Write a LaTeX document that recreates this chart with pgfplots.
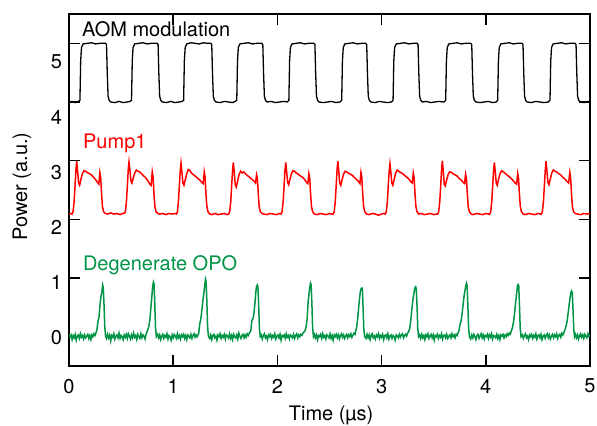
\documentclass[border=0pt]{standalone}
\usepackage{fontspec}
\setmainfont{TeX Gyre Heros}
\usepackage{pgfplots}
\pgfplotsset{compat=1.18}
\definecolor{opogreen}{RGB}{0,148,70}
\definecolor{pumpred}{RGB}{255,0,0}

\begin{document}
\begin{tikzpicture}
\begin{axis}[
  width=260.5pt, height=176pt, scale only axis,
  xmin=0, xmax=5, ymin=-0.5, ymax=5.5,
  xtick={0,1,...,5}, ytick={0,1,...,5},
  tick align=inside, major tick length=5.5pt,
  axis line style={line width=0.8pt},
  tick style={line width=0.8pt, black},
  /pgf/number format/assume math mode=true,
  tick label style={font=\fontsize{10}{12}\selectfont},
  xticklabel style={yshift=-3pt},
  yticklabel style={yshift={-0.65pt-1.75pt*\ticknum}},
  label style={font=\fontsize{10}{12}\selectfont},
  xlabel={Time (µs)},
  ylabel={Power (a.u.)},
  every axis x label/.style={at={(axis description cs:0.503,-0.139)}, anchor=center},
  every axis y label/.style={at={(axis description cs:-0.0902,0.51)}, rotate=90, anchor=center},
]
% AOM modulation
\addplot[black, line width=0.65pt] coordinates {
(0,4.00)(0.03,4.01)(0.06,3.99)(0.09,4.01)(0.105,4.03)(0.112,4.7)(0.12,4.93)(0.135,4.99)(0.175,5.00)(0.215,5.01)(0.255,4.99)(0.295,5.00)(0.35,5.00)(0.36,4.98)(0.367,4.5)(0.375,4.1)(0.385,4.03)(0.40,4.00)(0.44,3.99)(0.48,4.01)(0.52,3.99)(0.56,4.00)
(0.585,4.01)(0.60,4.03)(0.607,4.7)(0.615,4.93)(0.63,4.99)(0.67,5.00)(0.71,5.01)(0.75,4.99)(0.79,5.00)(0.845,5.00)(0.855,4.98)(0.862,4.5)(0.87,4.1)(0.88,4.03)(0.895,4.00)(0.935,3.99)(0.975,4.01)(1.015,3.99)(1.055,4.00)
(1.085,4.01)(1.10,4.03)(1.107,4.7)(1.115,4.93)(1.13,4.99)(1.17,5.01)(1.21,5.00)(1.25,4.99)(1.29,5.01)(1.33,5.00)(1.36,5.00)(1.37,4.98)(1.377,4.5)(1.385,4.1)(1.395,4.03)(1.41,4.00)(1.45,3.99)(1.49,4.01)(1.53,4.00)(1.57,3.99)
(1.595,4.01)(1.61,4.03)(1.617,4.7)(1.625,4.93)(1.64,4.99)(1.68,5.00)(1.72,5.01)(1.76,4.99)(1.80,5.00)(1.85,5.00)(1.86,4.98)(1.867,4.5)(1.875,4.1)(1.885,4.03)(1.90,4.00)(1.94,4.01)(1.98,3.99)(2.02,4.00)(2.06,4.01)(2.095,4.00)
(2.11,4.03)(2.117,4.7)(2.125,4.93)(2.14,4.99)(2.18,5.00)(2.22,5.01)(2.26,4.99)(2.30,5.00)(2.35,5.00)(2.36,4.98)(2.367,4.5)(2.375,4.1)(2.385,4.03)(2.40,4.00)(2.44,3.99)(2.48,4.00)(2.52,4.01)(2.56,3.99)(2.60,4.00)
(2.617,4.03)(2.624,4.7)(2.632,4.93)(2.647,4.99)(2.687,5.00)(2.727,5.01)(2.767,4.99)(2.807,5.00)(2.847,5.00)(2.857,4.98)(2.864,4.5)(2.872,4.1)(2.882,4.03)(2.897,4.00)(2.937,3.99)(2.977,4.01)(3.017,4.00)(3.057,3.99)(3.095,4.00)
(3.11,4.03)(3.117,4.7)(3.125,4.93)(3.14,4.99)(3.18,5.00)(3.22,5.01)(3.26,4.99)(3.30,5.00)(3.34,5.00)(3.35,4.98)(3.357,4.5)(3.365,4.1)(3.375,4.03)(3.39,4.00)(3.43,4.01)(3.47,3.99)(3.51,4.00)(3.55,4.01)(3.60,4.00)
(3.615,4.03)(3.622,4.7)(3.63,4.93)(3.645,4.99)(3.685,5.00)(3.725,5.01)(3.765,4.99)(3.805,5.00)(3.855,5.00)(3.865,4.98)(3.872,4.5)(3.88,4.1)(3.89,4.03)(3.905,4.00)(3.945,3.99)(3.985,4.00)(4.025,4.01)(4.065,3.99)(4.10,4.00)
(4.114,4.03)(4.121,4.7)(4.129,4.93)(4.144,4.99)(4.184,5.00)(4.224,5.01)(4.264,4.99)(4.304,5.00)(4.347,5.00)(4.357,4.98)(4.364,4.5)(4.372,4.1)(4.382,4.03)(4.397,4.00)(4.437,3.99)(4.477,4.01)(4.517,4.00)(4.557,3.99)(4.60,4.00)
(4.616,4.03)(4.623,4.7)(4.631,4.93)(4.646,4.99)(4.686,5.00)(4.726,5.01)(4.766,4.99)(4.806,5.00)(4.856,5.00)(4.866,4.98)(4.873,4.5)(4.881,4.1)(4.891,4.03)(4.906,4.00)(4.946,3.99)(4.98,4.01)(5.0,4.00)
};
% Pump1
\addplot[pumpred, line width=0.75pt] coordinates {
(0,2.08)(0.015,2.10)(0.029,2.09)(0.039,2.13)(0.049,2.3)(0.059,2.6)(0.067,2.85)(0.074,2.99)(0.082,2.84)(0.092,2.62)(0.102,2.58)(0.114,2.68)(0.129,2.78)(0.144,2.83)(0.159,2.82)(0.174,2.80)(0.194,2.78)(0.214,2.76)(0.234,2.72)(0.254,2.68)(0.274,2.63)(0.286,2.60)(0.296,2.80)(0.304,2.72)(0.312,2.45)(0.321,2.22)(0.332,2.13)(0.349,2.10)(0.37,2.09)(0.40,2.11)(0.43,2.09)(0.46,2.10)(0.49,2.08)(0.515,2.10)
(0.531,2.10)(0.541,2.13)(0.551,2.3)(0.561,2.6)(0.569,2.86)(0.576,2.98)(0.584,2.85)(0.594,2.66)(0.604,2.62)(0.616,2.70)(0.631,2.79)(0.646,2.84)(0.661,2.82)(0.676,2.81)(0.696,2.78)(0.716,2.74)(0.736,2.71)(0.756,2.66)(0.776,2.60)(0.788,2.58)(0.799,2.81)(0.807,2.72)(0.815,2.45)(0.824,2.22)(0.835,2.13)(0.852,2.10)(0.87,2.09)(0.90,2.10)(0.93,2.08)(0.96,2.10)(0.99,2.09)(1.015,2.10)
(1.030,2.09)(1.040,2.12)(1.050,2.3)(1.060,2.6)(1.068,2.84)(1.075,2.96)(1.083,2.82)(1.093,2.62)(1.103,2.58)(1.115,2.67)(1.130,2.78)(1.145,2.85)(1.160,2.83)(1.175,2.79)(1.195,2.76)(1.215,2.73)(1.235,2.70)(1.255,2.67)(1.275,2.63)(1.288,2.61)(1.298,2.81)(1.306,2.72)(1.314,2.45)(1.323,2.22)(1.334,2.13)(1.351,2.09)(1.37,2.08)(1.40,2.10)(1.43,2.08)(1.46,2.09)(1.49,2.10)(1.515,2.08)
(1.532,2.09)(1.542,2.13)(1.552,2.3)(1.562,2.6)(1.570,2.84)(1.577,2.97)(1.585,2.82)(1.595,2.60)(1.605,2.55)(1.617,2.64)(1.632,2.76)(1.647,2.82)(1.662,2.79)(1.677,2.81)(1.697,2.77)(1.717,2.74)(1.737,2.71)(1.757,2.68)(1.777,2.65)(1.790,2.62)(1.800,2.76)(1.808,2.70)(1.816,2.45)(1.825,2.22)(1.836,2.13)(1.853,2.10)(1.87,2.09)(1.90,2.08)(1.93,2.10)(1.96,2.09)(1.99,2.08)(2.02,2.10)
(2.035,2.09)(2.045,2.13)(2.055,2.3)(2.065,2.6)(2.073,2.84)(2.080,2.97)(2.088,2.83)(2.098,2.63)(2.108,2.59)(2.120,2.68)(2.135,2.78)(2.150,2.83)(2.165,2.82)(2.180,2.79)(2.200,2.77)(2.220,2.74)(2.240,2.72)(2.260,2.68)(2.280,2.63)(2.292,2.61)(2.302,2.78)(2.310,2.71)(2.318,2.45)(2.327,2.22)(2.338,2.13)(2.355,2.09)(2.38,2.08)(2.41,2.10)(2.44,2.09)(2.47,2.08)(2.50,2.10)(2.52,2.09)
(2.535,2.09)(2.545,2.13)(2.555,2.3)(2.565,2.6)(2.573,2.86)(2.580,2.99)(2.588,2.84)(2.598,2.62)(2.608,2.58)(2.620,2.67)(2.635,2.77)(2.650,2.82)(2.665,2.81)(2.680,2.79)(2.700,2.77)(2.720,2.75)(2.740,2.71)(2.760,2.68)(2.780,2.64)(2.792,2.61)(2.802,2.80)(2.810,2.72)(2.818,2.45)(2.827,2.22)(2.838,2.13)(2.855,2.09)(2.88,2.08)(2.91,2.10)(2.94,2.09)(2.97,2.07)(3.00,2.09)(3.02,2.10)
(3.035,2.09)(3.045,2.13)(3.055,2.3)(3.065,2.6)(3.073,2.83)(3.080,2.95)(3.088,2.82)(3.098,2.62)(3.108,2.58)(3.120,2.68)(3.135,2.79)(3.150,2.84)(3.165,2.82)(3.180,2.80)(3.200,2.78)(3.220,2.75)(3.240,2.72)(3.260,2.69)(3.280,2.64)(3.294,2.62)(3.304,2.79)(3.312,2.71)(3.320,2.45)(3.329,2.22)(3.340,2.13)(3.357,2.09)(3.38,2.10)(3.41,2.08)(3.44,2.09)(3.47,2.10)(3.50,2.08)(3.525,2.09)
(3.538,2.09)(3.548,2.13)(3.558,2.3)(3.568,2.6)(3.576,2.86)(3.583,3.00)(3.591,2.84)(3.601,2.60)(3.611,2.57)(3.623,2.66)(3.638,2.76)(3.653,2.81)(3.668,2.80)(3.683,2.78)(3.703,2.76)(3.723,2.74)(3.743,2.70)(3.763,2.67)(3.783,2.63)(3.796,2.61)(3.806,2.77)(3.814,2.70)(3.822,2.45)(3.831,2.22)(3.842,2.13)(3.859,2.09)(3.88,2.08)(3.91,2.10)(3.94,2.09)(3.97,2.08)(4.00,2.10)(4.025,2.09)
(4.037,2.09)(4.047,2.13)(4.057,2.3)(4.067,2.6)(4.075,2.84)(4.082,2.97)(4.090,2.83)(4.100,2.62)(4.110,2.58)(4.122,2.68)(4.137,2.78)(4.152,2.83)(4.167,2.81)(4.182,2.79)(4.202,2.76)(4.222,2.73)(4.242,2.70)(4.262,2.66)(4.282,2.62)(4.296,2.60)(4.306,2.78)(4.314,2.70)(4.322,2.45)(4.331,2.22)(4.342,2.13)(4.359,2.09)(4.38,2.08)(4.41,2.10)(4.44,2.09)(4.47,2.08)(4.50,2.10)(4.525,2.09)
(4.533,2.09)(4.543,2.13)(4.553,2.3)(4.563,2.6)(4.571,2.85)(4.578,2.99)(4.586,2.84)(4.596,2.63)(4.606,2.59)(4.618,2.68)(4.633,2.79)(4.648,2.84)(4.663,2.82)(4.678,2.81)(4.698,2.78)(4.718,2.76)(4.738,2.72)(4.758,2.69)(4.778,2.65)(4.795,2.62)(4.806,2.80)(4.814,2.71)(4.822,2.45)(4.831,2.22)(4.842,2.13)(4.859,2.10)(4.88,2.09)(4.91,2.08)(4.94,2.10)(4.97,2.09)(5.0,2.10)
};
% Degenerate OPO
\addplot[opogreen, line width=0.75pt] coordinates {
(0,0.04)(0.01,0.00)(0.02,0.03)(0.03,-0.05)(0.04,0.02)(0.05,-0.02)(0.06,0.04)(0.07,-0.06)(0.08,0.01)(0.09,0.03)(0.10,-0.03)(0.11,0.05)(0.12,-0.01)(0.13,0.02)(0.14,-0.04)(0.15,0.03)(0.16,-0.02)(0.17,0.01)(0.18,0.04)(0.19,-0.03)(0.20,0.02)(0.21,-0.05)(0.22,0.03)(0.23,0.00)(0.24,0.05)(0.25,0.02)
(0.258,0.06)(0.268,0.12)(0.278,0.26)(0.288,0.33)(0.298,0.55)(0.308,0.70)(0.316,0.76)(0.323,0.88)(0.329,0.84)(0.336,0.55)(0.343,0.18)(0.351,0.01)
(0.36,-0.03)(0.37,0.04)(0.38,-0.02)(0.39,0.03)(0.40,-0.07)(0.41,0.02)(0.42,-0.01)(0.43,0.05)(0.44,-0.04)(0.45,0.01)(0.46,0.03)(0.47,-0.02)(0.48,0.06)(0.49,-0.03)(0.50,0.02)(0.51,0.00)(0.52,-0.05)(0.53,0.03)(0.54,-0.01)(0.55,0.04)(0.56,-0.03)(0.57,0.05)(0.58,0.01)(0.59,-0.04)(0.60,0.03)(0.61,-0.02)(0.62,0.06)(0.63,-0.01)(0.64,0.02)(0.65,-0.05)(0.66,0.04)(0.67,0.00)(0.68,-0.03)(0.69,0.05)(0.70,-0.02)(0.71,0.03)(0.72,0.01)(0.73,-0.04)(0.74,0.04)
(0.748,0.08)(0.757,0.12)(0.767,0.18)(0.777,0.30)(0.787,0.52)(0.795,0.68)(0.803,0.86)(0.81,0.93)(0.816,0.90)(0.823,0.58)(0.830,0.16)(0.838,0.00)
(0.85,0.04)(0.86,-0.02)(0.87,0.03)(0.88,-0.05)(0.89,0.01)(0.90,0.04)(0.91,-0.03)(0.92,0.02)(0.93,-0.01)(0.94,0.05)(0.95,-0.04)(0.96,0.02)(0.97,0.00)(0.98,-0.06)(0.99,0.03)(1.00,-0.02)(1.01,0.04)(1.02,0.01)(1.03,-0.03)(1.04,0.05)(1.05,-0.02)(1.06,0.02)(1.07,-0.04)(1.08,0.03)(1.09,0.00)(1.10,0.04)(1.11,-0.03)(1.12,0.02)(1.13,-0.05)(1.14,0.03)(1.15,0.01)(1.16,-0.02)(1.17,0.04)(1.18,-0.03)(1.19,0.02)(1.20,0.05)(1.21,-0.01)(1.22,0.03)(1.23,0.00)(1.24,0.04)
(1.245,0.06)(1.255,0.22)(1.265,0.30)(1.275,0.45)(1.285,0.62)(1.295,0.75)(1.303,0.88)(1.31,0.98)(1.316,0.94)(1.323,0.60)(1.330,0.17)(1.338,0.01)
(1.35,-0.03)(1.36,0.03)(1.37,-0.05)(1.38,0.02)(1.39,0.04)(1.40,-0.02)(1.41,0.01)(1.42,-0.06)(1.43,0.03)(1.44,0.00)(1.45,0.05)(1.46,-0.03)(1.47,0.02)(1.48,-0.01)(1.49,0.04)(1.50,-0.04)(1.51,0.03)(1.52,0.01)(1.53,-0.02)(1.54,0.05)(1.55,-0.03)(1.56,0.02)(1.57,-0.05)(1.58,0.04)(1.59,0.00)(1.60,-0.02)(1.61,0.03)(1.62,-0.04)(1.63,0.06)(1.64,0.01)(1.65,-0.03)(1.66,0.02)(1.67,0.04)(1.68,-0.02)(1.69,0.03)(1.70,-0.01)(1.71,0.05)(1.72,0.02)(1.73,0.06)
(1.745,0.10)(1.755,0.28)(1.765,0.30)(1.775,0.40)(1.785,0.58)(1.793,0.76)(1.800,0.86)(1.807,0.88)(1.813,0.85)(1.820,0.55)(1.827,0.15)(1.835,0.00)
(1.845,0.03)(1.855,-0.04)(1.865,0.02)(1.875,0.05)(1.885,-0.02)(1.895,0.01)(1.905,-0.05)(1.915,0.03)(1.925,0.00)(1.935,0.04)(1.945,-0.03)(1.955,0.02)(1.965,-0.01)(1.975,0.05)(1.985,-0.04)(1.995,0.01)(2.005,0.03)(2.015,-0.02)(2.025,0.04)(2.035,-0.06)(2.045,0.02)(2.055,0.00)(2.065,0.03)(2.075,-0.03)(2.085,0.05)(2.095,-0.01)(2.105,0.02)(2.115,-0.04)(2.125,0.03)(2.135,0.01)(2.145,-0.02)(2.155,0.04)(2.165,-0.03)(2.175,0.02)(2.185,0.05)(2.195,-0.02)(2.205,0.03)(2.215,0.00)(2.225,0.04)(2.235,0.02)(2.245,0.06)
(2.255,0.08)(2.265,0.10)(2.275,0.16)(2.285,0.30)(2.295,0.60)(2.303,0.72)(2.311,0.85)(2.318,0.91)(2.324,0.88)(2.331,0.56)(2.338,0.15)(2.346,0.00)
(2.355,0.04)(2.365,-0.02)(2.375,0.03)(2.385,-0.05)(2.395,0.02)(2.405,0.00)(2.415,0.04)(2.425,-0.03)(2.435,0.05)(2.445,-0.01)(2.455,0.02)(2.465,-0.04)(2.475,0.03)(2.485,0.01)(2.495,-0.02)(2.505,0.05)(2.515,-0.03)(2.525,0.02)(2.535,-0.06)(2.545,0.03)(2.555,0.00)(2.565,0.04)(2.575,-0.02)(2.585,0.03)(2.595,-0.04)(2.605,0.02)(2.615,0.05)(2.625,-0.01)(2.635,0.03)(2.645,-0.03)(2.655,0.01)(2.665,0.04)(2.675,-0.02)(2.685,0.03)(2.695,0.00)(2.705,0.05)(2.715,-0.01)(2.725,0.03)(2.735,0.06)(2.745,0.04)
(2.752,0.10)(2.760,0.16)(2.770,0.30)(2.780,0.50)(2.790,0.68)(2.797,0.78)(2.803,0.82)(2.81,0.83)(2.816,0.80)(2.822,0.50)(2.829,0.14)(2.838,0.00)
(2.85,-0.03)(2.86,0.04)(2.87,-0.02)(2.88,0.03)(2.89,-0.05)(2.90,0.02)(2.91,0.05)(2.92,-0.02)(2.93,0.01)(2.94,-0.04)(2.95,0.03)(2.96,0.00)(2.97,0.05)(2.98,-0.03)(2.99,0.02)(3.00,-0.01)(3.01,0.04)(3.02,-0.05)(3.03,0.02)(3.04,0.03)(3.05,-0.02)(3.06,0.05)(3.07,-0.04)(3.08,0.01)(3.09,0.03)(3.10,-0.03)(3.11,0.02)(3.12,0.00)(3.13,-0.06)(3.14,0.03)(3.15,0.01)(3.16,-0.02)(3.17,0.04)(3.18,-0.01)(3.19,0.03)(3.20,0.05)(3.21,-0.02)(3.22,0.02)(3.23,0.04)(3.24,0.01)(3.25,0.06)
(3.260,0.09)(3.270,0.14)(3.280,0.28)(3.290,0.46)(3.300,0.62)(3.310,0.74)(3.319,0.83)(3.327,0.85)(3.333,0.81)(3.340,0.52)(3.347,0.14)(3.355,0.00)
(3.365,0.03)(3.375,-0.03)(3.385,0.04)(3.395,-0.02)(3.405,0.02)(3.415,-0.05)(3.425,0.03)(3.435,0.00)(3.445,0.05)(3.455,-0.03)(3.465,0.01)(3.475,0.04)(3.485,-0.02)(3.495,0.03)(3.505,-0.06)(3.515,0.02)(3.525,0.00)(3.535,0.04)(3.545,-0.03)(3.555,0.02)(3.565,-0.01)(3.575,0.05)(3.585,-0.04)(3.595,0.02)(3.605,0.03)(3.615,-0.02)(3.625,0.04)(3.635,-0.03)(3.645,0.01)(3.655,0.03)(3.665,-0.02)(3.675,0.05)(3.685,0.00)(3.695,0.03)(3.705,-0.02)(3.715,0.04)(3.725,0.02)(3.735,0.07)
(3.742,0.10)(3.752,0.20)(3.762,0.26)(3.772,0.38)(3.782,0.55)(3.792,0.70)(3.802,0.80)(3.808,0.87)(3.815,0.91)(3.821,0.86)(3.828,0.52)(3.835,0.14)(3.843,0.00)
(3.855,-0.04)(3.865,0.03)(3.875,-0.02)(3.885,0.04)(3.895,0.00)(3.905,-0.05)(3.915,0.02)(3.925,0.04)(3.935,-0.03)(3.945,0.01)(3.955,0.05)(3.965,-0.02)(3.975,0.03)(3.985,-0.04)(3.995,0.02)(4.005,0.00)(4.015,0.04)(4.025,-0.03)(4.035,0.03)(4.045,-0.01)(4.055,0.05)(4.065,-0.04)(4.075,0.02)(4.085,0.01)(4.095,-0.02)(4.105,0.04)(4.115,-0.03)(4.125,0.02)(4.135,-0.05)(4.145,0.03)(4.155,0.01)(4.165,0.04)(4.175,-0.02)(4.185,0.03)(4.195,0.00)(4.205,0.05)(4.215,0.02)(4.225,0.06)(4.235,0.04)
(4.245,0.10)(4.255,0.15)(4.265,0.24)(4.275,0.38)(4.285,0.56)(4.295,0.72)(4.303,0.86)(4.31,0.89)(4.316,0.87)(4.323,0.54)(4.330,0.15)(4.338,0.00)
(4.35,0.03)(4.36,-0.03)(4.37,0.02)(4.38,0.05)(4.39,-0.02)(4.40,0.01)(4.41,-0.05)(4.42,0.03)(4.43,0.00)(4.44,0.04)(4.45,-0.03)(4.46,0.02)(4.47,-0.01)(4.48,0.05)(4.49,-0.04)(4.50,0.02)(4.51,0.03)(4.52,-0.02)(4.53,0.04)(4.54,-0.05)(4.55,0.01)(4.56,0.03)(4.57,-0.03)(4.58,0.02)(4.59,0.05)(4.60,-0.02)(4.61,0.03)(4.62,-0.04)(4.63,0.01)(4.64,0.04)(4.65,-0.02)(4.66,0.03)(4.67,0.00)(4.68,0.05)(4.69,-0.03)(4.70,0.02)(4.71,0.04)(4.72,-0.01)(4.73,0.06)(4.74,0.03)(4.75,0.07)
(4.760,0.12)(4.770,0.18)(4.780,0.26)(4.790,0.40)(4.800,0.55)(4.808,0.66)(4.816,0.75)(4.824,0.78)(4.830,0.74)(4.837,0.46)(4.844,0.12)(4.852,0.00)
(4.86,0.04)(4.87,-0.02)(4.88,0.03)(4.89,-0.04)(4.90,0.02)(4.91,0.05)(4.92,-0.01)(4.93,0.03)(4.94,-0.03)(4.95,0.04)(4.96,0.01)(4.97,-0.02)(4.98,0.05)(4.99,0.01)(5.0,0.03)
};
\node[anchor=base west, inner sep=0pt, font=\fontsize{10}{12}\selectfont, black] at (axis cs:0.122,5.12) {AOM modulation};
\node[anchor=base west, inner sep=0pt, font=\fontsize{10}{12}\selectfont, pumpred] at (axis cs:0.131,3.21) {Pump1};
\node[anchor=base west, inner sep=0pt, font=\fontsize{10}{12}\selectfont, opogreen] at (axis cs:0.131,1.124) {Degenerate OPO};
\coordinate (sw) at (rel axis cs:0,0);
\end{axis}
\pgfresetboundingbox
\path (sw) ++(-34.5pt,-30pt) rectangle ++(298.5pt,213pt);
\end{tikzpicture}
\end{document}
